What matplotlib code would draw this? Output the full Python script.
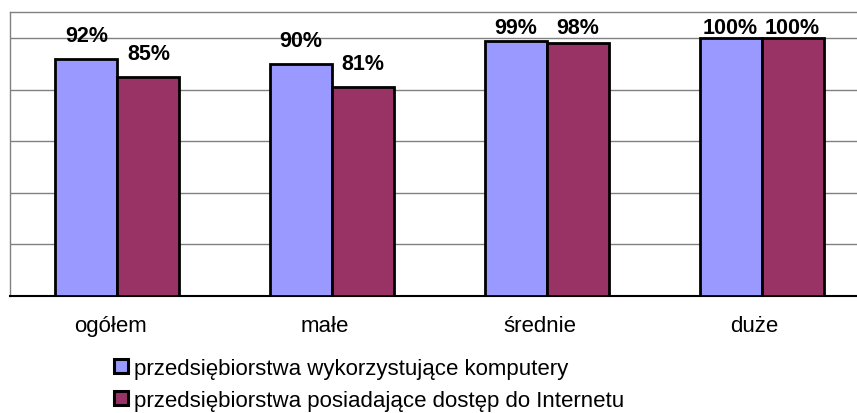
import matplotlib
matplotlib.use("Agg")
import matplotlib.pyplot as plt
import matplotlib.transforms as mtransforms
import numpy as np
from matplotlib.patches import Patch

categories = ["ogółem", "małe", "średnie", "duże"]
series_names = ["przedsiębiorstwa wykorzystujące komputery",
                "przedsiębiorstwa posiadające dostęp do Internetu"]
computers = [0.92, 0.90, 0.99, 1.00]
internet = [0.85, 0.81, 0.98, 1.00]
colors = ["#9999FF", "#993366"]

plt.rcParams['font.family'] = ['Liberation Sans', 'DejaVu Sans']

W, H = 857, 414
fig = plt.figure(figsize=(W / 100, H / 100), dpi=100)
left, right, top, bottom = 10, 869, 13, 296.5
ax = fig.add_axes([left / W, 1 - bottom / H, (right - left) / W, (bottom - top) / H])

x = np.arange(len(categories))
bw = 0.289
for i, (vals, col) in enumerate(zip([computers, internet], colors)):
    xs = x + (i - 0.5) * bw
    ax.bar(xs, vals, width=bw, color=col, edgecolor="black", linewidth=2.0,
           zorder=3, label=series_names[i])
    for xi, v in zip(xs, vals):
        ax.text(xi, min(v + 0.05, 1.0), f"{v*100:.0f}%", ha="center", va="bottom",
                fontsize=15.5, fontweight="bold", zorder=4)

ax.set_xlim(-0.5, len(categories) - 0.5)
ax.set_ylim(0, 1.101)
ax.set_yticks([0.2, 0.4, 0.6, 0.8, 1.0])
ax.set_yticklabels([])
ax.tick_params(axis="y", length=0)
ax.grid(axis="y", color="#808080", linewidth=1.0, zorder=0)
ax.set_xticks(x)
ax.set_xticklabels(categories, fontsize=16)
ax.tick_params(axis="x", length=0, pad=14)
shift = mtransforms.ScaledTranslation(-7 / 100, 0, fig.dpi_scale_trans)
for lbl in ax.get_xticklabels():
    lbl.set_transform(lbl.get_transform() + shift)
for s in ["top", "left", "right"]:
    ax.spines[s].set_color("#808080")
    ax.spines[s].set_linewidth(1.0)
ax.spines["bottom"].set_color("black")
ax.spines["bottom"].set_linewidth(1.5)

handles = [Patch(facecolor=c, edgecolor="black", linewidth=2.2) for c in colors]
fig.legend(handles, series_names, loc="upper left",
           bbox_to_anchor=(114 / W, 1 - 359 / H), frameon=False, fontsize=16,
           handlelength=0.62, handleheight=0.62, handletextpad=0.3,
           labelspacing=0.5, borderpad=0, borderaxespad=0)

fig.savefig("out.png", dpi=100)
